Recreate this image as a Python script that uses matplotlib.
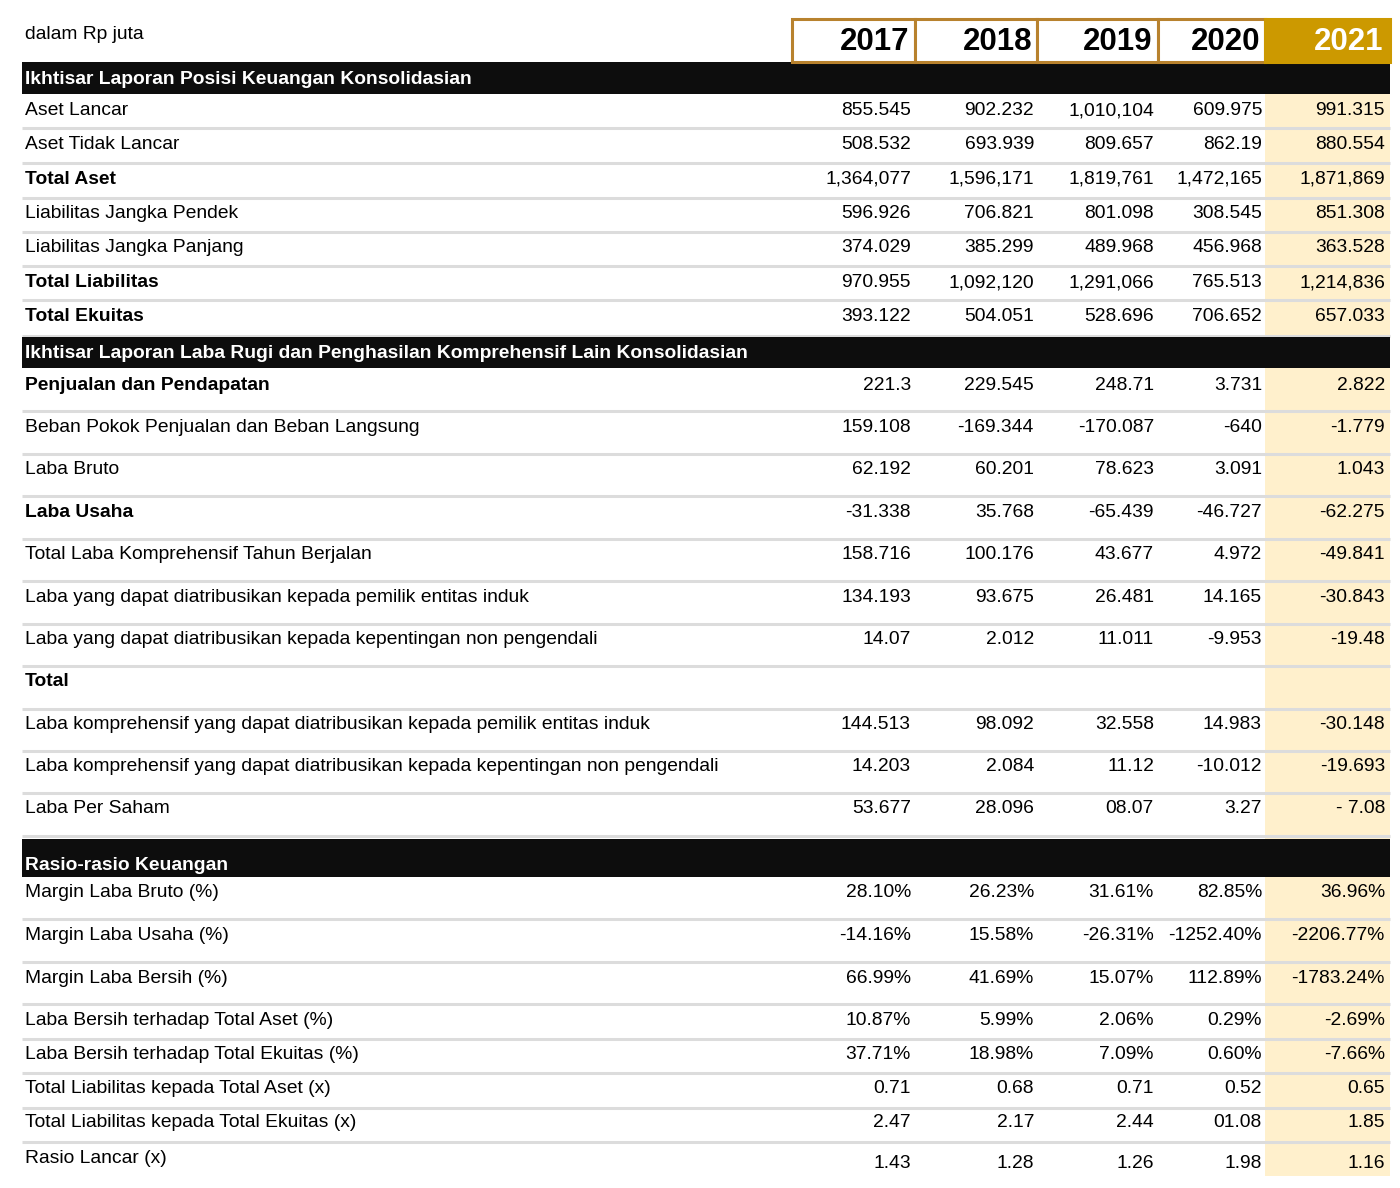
import matplotlib
matplotlib.use("Agg")
import matplotlib.pyplot as plt
from matplotlib.patches import Rectangle

plt.rcParams['font.family'] = ['Liberation Sans', 'DejaVu Sans']

years = ["2017", "2018", "2019", "2020", "2021"]

section_titles = [
    "Ikhtisar Laporan Posisi Keuangan Konsolidasian",
    "Ikhtisar Laporan Laba Rugi dan Penghasilan Komprehensif Lain Konsolidasian",
    "Rasio-rasio Keuangan",
]

# section 1
s1_labels = ["Aset Lancar", "Aset Tidak Lancar", "Total Aset", "Liabilitas Jangka Pendek",
             "Liabilitas Jangka Panjang", "Total Liabilitas", "Total Ekuitas"]
s1_bold = [False, False, True, False, False, True, True]
s1_2017 = ["855.545", "508.532", "1,364,077", "596.926", "374.029", "970.955", "393.122"]
s1_2018 = ["902.232", "693.939", "1,596,171", "706.821", "385.299", "1,092,120", "504.051"]
s1_2019 = ["1,010,104", "809.657", "1,819,761", "801.098", "489.968", "1,291,066", "528.696"]
s1_2020 = ["609.975", "862.19", "1,472,165", "308.545", "456.968", "765.513", "706.652"]
s1_2021 = ["991.315", "880.554", "1,871,869", "851.308", "363.528", "1,214,836", "657.033"]

# section 2
s2_labels = ["Penjualan dan Pendapatan", "Beban Pokok Penjualan dan Beban Langsung", "Laba Bruto",
             "Laba Usaha", "Total Laba Komprehensif Tahun Berjalan",
             "Laba yang dapat diatribusikan kepada pemilik entitas induk",
             "Laba yang dapat diatribusikan kepada kepentingan non pengendali", "Total",
             "Laba komprehensif yang dapat diatribusikan kepada pemilik entitas induk",
             "Laba komprehensif yang dapat diatribusikan kepada kepentingan non pengendali",
             "Laba Per Saham"]
s2_bold = [True, False, False, True, False, False, False, True, False, False, False]
s2_2017 = ["221.3", "159.108", "62.192", "-31.338", "158.716", "134.193", "14.07", "", "144.513", "14.203", "53.677"]
s2_2018 = ["229.545", "-169.344", "60.201", "35.768", "100.176", "93.675", "2.012", "", "98.092", "2.084", "28.096"]
s2_2019 = ["248.71", "-170.087", "78.623", "-65.439", "43.677", "26.481", "11.011", "", "32.558", "11.12", "08.07"]
s2_2020 = ["3.731", "-640", "3.091", "-46.727", "4.972", "14.165", "-9.953", "", "14.983", "-10.012", "3.27"]
s2_2021 = ["2.822", "-1.779", "1.043", "-62.275", "-49.841", "-30.843", "-19.48", "", "-30.148", "-19.693", "- 7.08"]

# section 3
s3_labels = ["Margin Laba Bruto (%)", "Margin Laba Usaha (%)", "Margin Laba Bersih (%)",
             "Laba Bersih terhadap Total Aset (%)", "Laba Bersih terhadap Total Ekuitas (%)",
             "Total Liabilitas kepada Total Aset (x)", "Total Liabilitas kepada Total Ekuitas (x)",
             "Rasio Lancar (x)"]
s3_bold = [False] * 8
s3_2017 = ["28.10%", "-14.16%", "66.99%", "10.87%", "37.71%", "0.71", "2.47", "1.43"]
s3_2018 = ["26.23%", "15.58%", "41.69%", "5.99%", "18.98%", "0.68", "2.17", "1.28"]
s3_2019 = ["31.61%", "-26.31%", "15.07%", "2.06%", "7.09%", "0.71", "2.44", "1.26"]
s3_2020 = ["82.85%", "-1252.40%", "112.89%", "0.29%", "0.60%", "0.52", "01.08", "1.98"]
s3_2021 = ["36.96%", "-2206.77%", "-1783.24%", "-2.69%", "-7.66%", "0.65", "1.85", "1.16"]

# ---------------- layout (pixels) ----------------
W, H = 1400, 1188
fig = plt.figure(figsize=(W / 100, H / 100), dpi=100)
ax = fig.add_axes([0, 0, 1, 1])
ax.set_xlim(0, W)
ax.set_ylim(H, 0)
ax.axis('off')

LEFT, RIGHT = 22, 1390
col_edges = [792, 915, 1037, 1158, 1265, 1390]
col_right = [911, 1034, 1154, 1262, 1385]
GOLD = "#CC9900"
BORDER = "#B8822E"
CREAM = "#FFF0CC"
SEP = "#DCDCDC"
FS = 13.9
DY = 1.5

# cream column for 2021
ax.add_patch(Rectangle((col_edges[4], 62), col_edges[5] - col_edges[4], 1176 - 62,
                       facecolor=CREAM, edgecolor='none', zorder=0))

# header
ax.text(25, 33 + DY, "dalam Rp juta", fontsize=FS, va='center', ha='left', color='black')
for i, y in enumerate(years):
    x0, x1 = col_edges[i], col_edges[i + 1]
    last = (i == len(years) - 1)
    ax.add_patch(Rectangle((x0, 19), x1 - x0, 43, facecolor=GOLD if last else 'white',
                           edgecolor=GOLD if last else BORDER, linewidth=2.2, zorder=3))
    ax.text(col_right[i] - 2, 42, y, fontsize=22.5, fontweight='bold', ha='right', va='center',
            color='white' if last else 'black', zorder=4)

section_bars = [(62, 94, 78), (337, 368, 352), (839, 877, 864)]
sections = [
    (s1_labels, s1_bold, [s1_2017, s1_2018, s1_2019, s1_2020, s1_2021],
     [109, 143, 178, 212, 246, 281, 315], [128, 163, 198, 232, 266, 300, 336]),
    (s2_labels, s2_bold, [s2_2017, s2_2018, s2_2019, s2_2020, s2_2021],
     [384, 426, 468, 511, 553, 596, 638, 680, 723, 765, 807],
     [411, 454, 496, 539, 581, 624, 666, 709, 751, 793, 836]),
    (s3_labels, s3_bold, [s3_2017, s3_2018, s3_2019, s3_2020, s3_2021],
     [891, 934, 977, 1019, 1053, 1087, 1121, 1157],
     [919, 962, 1004, 1039, 1073, 1108, 1142, None]),
]
value_offsets = [0, 0, 0, 0, 0, 0, 0, 5]

for si, (title, (y0, y1, ty)) in enumerate(zip(section_titles, section_bars)):
    ax.add_patch(Rectangle((LEFT, y0), RIGHT - LEFT, y1 - y0, facecolor="#0D0D0D",
                           edgecolor='none', zorder=2))
    ax.text(25, ty + DY, title, fontsize=FS, fontweight='bold', color='white', ha='left',
            va='center', zorder=3)
    labels, bolds, cols, ys, seps = sections[si]
    for r, lab in enumerate(labels):
        ax.text(25, ys[r] + DY, lab, fontsize=FS, fontweight='bold' if bolds[r] else 'normal',
                ha='left', va='center', color='black', zorder=3)
        dy = value_offsets[r] if si == 2 else 0
        for c in range(5):
            ax.text(col_right[c], ys[r] + dy + DY, cols[c][r], fontsize=FS, ha='right',
                    va='center', color='black', zorder=3)
        if seps[r] is not None:
            ax.plot([LEFT, RIGHT], [seps[r], seps[r]], color=SEP, linewidth=2.2,
                    solid_capstyle='butt', zorder=1)

fig.savefig("out.png", dpi=100)
